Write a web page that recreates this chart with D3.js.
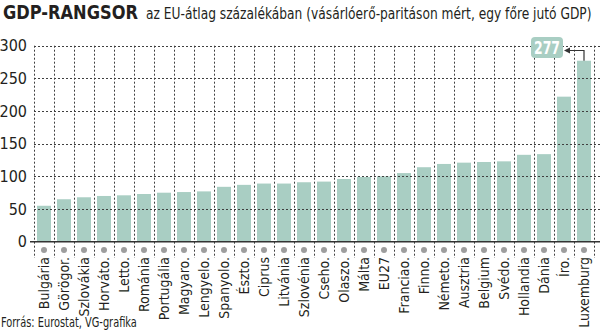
<!DOCTYPE html>
<html>
<head>
<meta charset="utf-8">
<script src="https://cdn.jsdelivr.net/npm/d3@7"></script>
<style>
  html, body { margin: 0; padding: 0; background: #fff; }
  svg { display: block; }
  text { font-family: "Liberation Sans Narrow", "DejaVu Sans Condensed", "Roboto", sans-serif; fill: #231f20; }
</style>
</head>
<body>
<svg id="chart" width="600" height="336"></svg>
<script>
// GDP per capita in PPS, EU average = 100
const countries = ["Bulgária", "Görögor.", "Szlovákia", "Horváto.", "Letto.", "Románia", "Portugália",
  "Magyaro.", "Lengyelo.", "Spanyolo.", "Észto.", "Ciprus", "Litvánia", "Szlovénia", "Cseho.",
  "Olaszo.", "Málta", "EU27", "Franciao.", "Finno.", "Németo.", "Ausztria", "Belgium", "Svédo.",
  "Hollandia", "Dánia", "Íro.", "Luxemburg"];
const gdpIndex = [55, 65, 68, 70, 71, 73, 75, 76, 77, 84, 87, 89, 89, 91, 92, 96, 99, 100,
  105, 114, 119, 121, 122, 123, 133, 134, 222, 277];
const yTicks = [0, 50, 100, 150, 200, 250, 300];
const highlight = { country: "Luxemburg", label: "277" };

const titleText = "GDP-RANGSOR";
const subtitleText = "az EU-átlag százalékában (vásárlóerő-paritáson mért, egy főre jutó GDP)";
const sourceText = "Forrás: Eurostat, VG-grafika";

const barColor = "#a9cec3";
const gridColor = "#3f3f3f";

const svg = d3.select("#chart");

// squeeze a text horizontally so it spans the given width from (x0, y0)
function fitText(sel, x0, y0, width, anchor) {
  const w = sel.node().getComputedTextLength();
  const sx = Math.min(1, width / w);
  sel.attr("x", 0).attr("y", 0)
    .attr("transform", `translate(${x0},${y0}) scale(${sx},1)`);
  if (anchor) sel.attr("text-anchor", anchor);
  return sel;
}

const x = d3.scaleBand()
  .domain(countries)
  .range([34, 594])
  .paddingInner(0.3)
  .paddingOuter(0.15);

const y = d3.scaleLinear().domain([0, 300]).range([241.7, 45.7]);

const step = x.step();
const data = countries.map((c, i) => ({ country: c, value: gdpIndex[i] }));

// bars
svg.append("g").selectAll("rect")
  .data(data)
  .join("rect")
  .attr("x", d => x(d.country))
  .attr("y", d => y(d.value))
  .attr("width", x.bandwidth())
  .attr("height", d => y(0) - y(d.value))
  .attr("fill", barColor);

// dotted grid: horizontal at each tick, vertical between bars
const grid = svg.append("g")
  .attr("stroke", gridColor)
  .attr("stroke-width", 1)
  .attr("stroke-dasharray", "2,2");

grid.selectAll("line.h")
  .data(yTicks.filter(t => t > 0))
  .join("line")
  .attr("class", "h")
  .attr("x1", x.range()[0])
  .attr("x2", 600)
  .attr("y1", d => Math.round(y(d)) + 0.5)
  .attr("y2", d => Math.round(y(d)) + 0.5);

grid.selectAll("line.v")
  .data(d3.range(countries.length + 1))
  .join("line")
  .attr("class", "v")
  .attr("x1", i => Math.round(x.range()[0] + i * step) + 0.5)
  .attr("x2", i => Math.round(x.range()[0] + i * step) + 0.5)
  .attr("y1", y(300))
  .attr("y2", 258);

// baseline axis
svg.append("line")
  .attr("x1", 30).attr("x2", 600)
  .attr("y1", y(0)).attr("y2", y(0))
  .attr("stroke", "#333").attr("stroke-width", 1.6);

// y tick labels
svg.append("g").selectAll("text")
  .data(yTicks)
  .join("text")
  .attr("x", 27)
  .attr("y", d => y(d))
  .attr("dy", "0.36em")
  .attr("text-anchor", "end")
  .attr("font-size", 16)
  .text(d => d);

// category markers and rotated labels
svg.append("g").selectAll("circle")
  .data(countries)
  .join("circle")
  .attr("cx", d => x(d) + x.bandwidth() / 2)
  .attr("cy", 250)
  .attr("r", 3)
  .attr("fill", "#9d9d9d");

svg.append("g").selectAll("text")
  .data(countries)
  .join("text")
  .attr("transform", d => `translate(${x(d) + x.bandwidth() / 2},257) rotate(-90)`)
  .attr("dy", "0.36em")
  .attr("text-anchor", "end")
  .attr("font-size", 14)
  .text(d => d);

// value callout for the highest bar
const hx = x(highlight.country) + x.bandwidth() / 2;
const hy = y(gdpIndex[countries.indexOf(highlight.country)]);
const box = { x: 531, y: 37, w: 32, h: 21 };
svg.append("rect")
  .attr("x", box.x).attr("y", box.y)
  .attr("width", box.w).attr("height", box.h)
  .attr("rx", 4)
  .attr("fill", barColor);
const valueLabel = svg.append("text")
  .attr("font-size", 18)
  .attr("font-weight", "bold")
  .attr("dy", "0.36em")
  .style("fill", "#fff")
  .text(highlight.label);
fitText(valueLabel, box.x + box.w / 2, box.y + box.h / 2, 26, "middle");

svg.append("path")
  .attr("d", `M${hx},${hy} V50.5 H${box.x + box.w + 6}`)
  .attr("fill", "none")
  .attr("stroke", "#333")
  .attr("stroke-width", 1.2);
svg.append("path")
  .attr("d", `M${box.x + box.w + 1},50.5 l6,-3 v6 z`)
  .attr("fill", "#333");

// title block
const title = svg.append("text")
  .attr("font-size", 20)
  .attr("font-weight", "bold")
  .text(titleText);
fitText(title, 3, 19, 135);

const subtitle = svg.append("text")
  .attr("font-size", 15)
  .text(subtitleText);
fitText(subtitle, 146, 19, 446);

// source line
const source = svg.append("text")
  .attr("font-size", 14)
  .text(sourceText);
fitText(source, 1, 327, 136);
</script>
</body>
</html>
